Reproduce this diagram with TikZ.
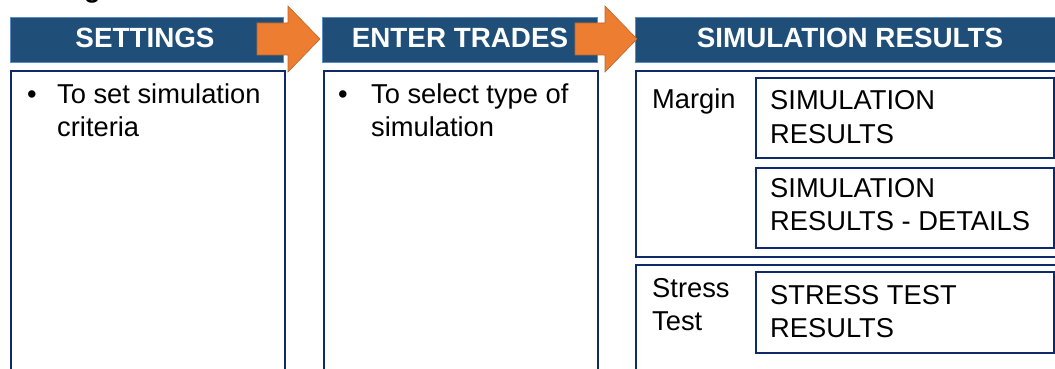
\documentclass[tikz,border=0pt]{standalone}
\usepackage{fontspec}
\setmainfont{Liberation Sans}
\definecolor{hdrfill}{HTML}{1F4E79}
\definecolor{hdredge}{HTML}{5B8BC0}
\definecolor{navy}{HTML}{0E2A6A}
\definecolor{orng}{HTML}{ED7D31}
\definecolor{orngedge}{HTML}{C0652A}
\tikzset{
  hdr/.style={draw=hdredge, fill=hdrfill, line width=1.2pt, anchor=north west, inner sep=0pt,
    minimum height=45pt},
  hdrtxt/.style={anchor=base, inner sep=0pt, text=white, font=\fontsize{27.8}{33}\selectfont\bfseries},
  panel/.style={draw=navy, line width=2pt, anchor=north west, inner sep=0pt},
  txt/.style={anchor=base west, inner sep=0pt, font=\fontsize{27.3}{33}\selectfont},
  bigarrow/.style={fill=orng, draw=orngedge, line width=0.6pt, line join=miter},
}
\newcommand{\twolines}[2]{\vtop{\baselineskip=33pt\hbox{#1}\hbox{#2}}}
\begin{document}
\begin{tikzpicture}[x=1pt,y=-1pt]
\useasboundingbox (0,0) rectangle (1055,369);
\clip (0,0) rectangle (1055,369);
% cropped title fragment
\node[anchor=base west, inner sep=0pt, font=\fontsize{27}{33}\selectfont\bfseries] (title) at (84,-2) {g};
% headers
\node[hdr, minimum width=273pt] (h1) at (10,17) {};
\node[hdr, minimum width=275pt] (h2) at (322,17) {};
\node[hdr, minimum width=430pt] (h3) at (635,17) {};
\node[hdrtxt] (t1) at (145,48) {SETTINGS};
\node[hdrtxt] (t2) at (460,48) {ENTER TRADES};
\node[hdrtxt] (t3) at (850,48) {SIMULATION RESULTS};
% panels
\node[panel, minimum width=274pt, minimum height=320pt] (p1) at (10,70) {};
\node[panel, minimum width=274pt, minimum height=320pt] (p2) at (323,70) {};
\node[panel, minimum width=440pt, minimum height=186pt] (p3) at (635,70) {};
\node[panel, minimum width=440pt, minimum height=130pt] (p4) at (635,264) {};
\node[panel, minimum width=298pt, minimum height=80pt] (ia) at (755,77) {};
\node[panel, minimum width=298pt, minimum height=80pt] (ib) at (755,167) {};
\node[panel, minimum width=298pt, minimum height=81pt] (ic) at (755,271) {};
% texts
\node[txt] (b1) at (27,103) {•};
\node[txt] (x1) at (57,103) {\twolines{To set simulation}{criteria}};
\node[txt] (b2) at (338,103) {•};
\node[txt] (x2) at (371,103) {\twolines{To select type of}{simulation}};
\node[txt] (m) at (652,108) {Margin};
\node[txt] (st) at (652,297) {\twolines{Stress}{Test}};
\node[txt] (xa) at (770,110) {\twolines{SIMULATION}{RESULTS}};
\node[txt] (xb) at (770,197) {\twolines{SIMULATION}{RESULTS - DETAILS}};
\node[txt] (xc) at (770,304) {\twolines{STRESS TEST}{RESULTS}};
% arrows
\draw[bigarrow] (257,23) -- (288,23) -- (288,6) -- (320,39) -- (288,72) -- (288,55) -- (257,55) -- cycle;
\draw[bigarrow] (575,23) -- (605,23) -- (605,6) -- (637,39) -- (605,72) -- (605,55) -- (575,55) -- cycle;
\end{tikzpicture}
\end{document}
